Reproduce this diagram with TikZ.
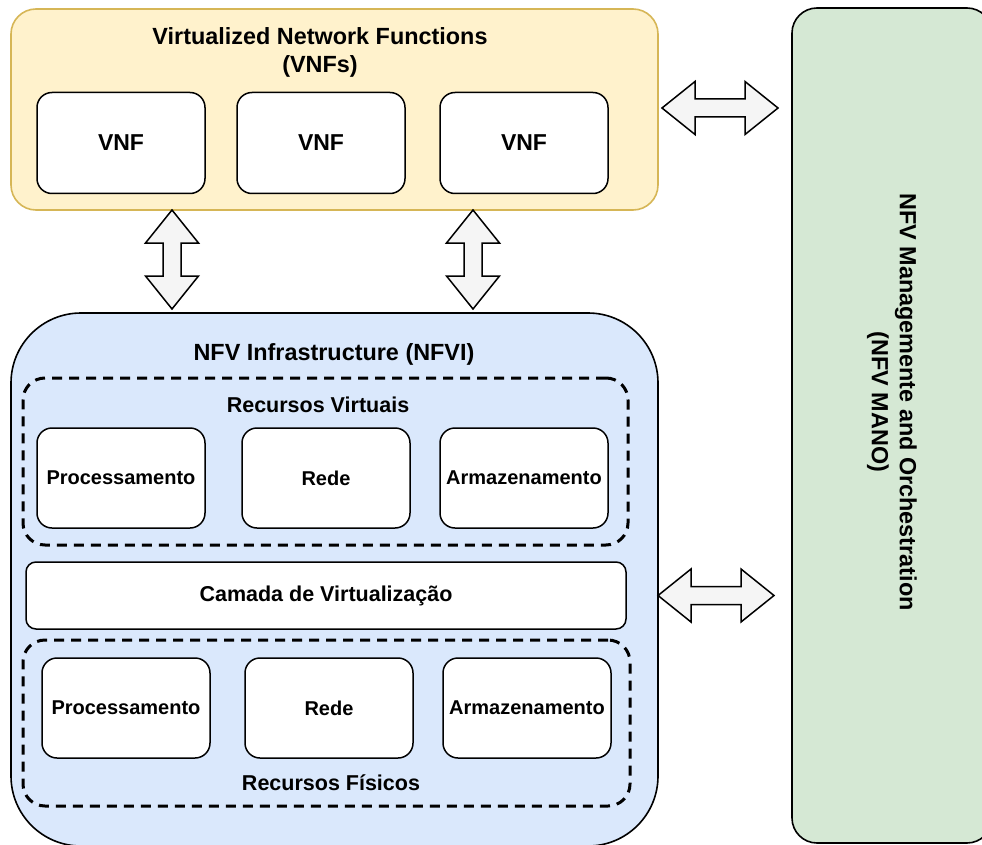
\documentclass[tikz,border=0pt]{standalone}
\usepackage{fontspec}
\setmainfont{Liberation Sans}
\usetikzlibrary{calc}

\definecolor{vnfFill}{HTML}{FFF2CC}
\definecolor{vnfLine}{HTML}{D6B656}
\definecolor{infraFill}{HTML}{DAE8FC}
\definecolor{manoFill}{HTML}{D5E8D4}
\definecolor{arrowFill}{HTML}{F5F5F5}

% double-headed block arrow between two points
\newcommand{\dblarrow}[2]{%
  \draw[blockarrow] (#1)
    -- ($(#1)!33pt!(#2)!26.5pt!90:(#2)$)
    -- ($(#1)!33pt!(#2)!9pt!90:(#2)$)
    -- ($(#2)!33pt!(#1)!9pt!-90:(#1)$)
    -- ($(#2)!33pt!(#1)!26.5pt!-90:(#1)$)
    -- (#2)
    -- ($(#2)!33pt!(#1)!26.5pt!90:(#1)$)
    -- ($(#2)!33pt!(#1)!9pt!90:(#1)$)
    -- ($(#1)!33pt!(#2)!9pt!-90:(#2)$)
    -- ($(#1)!33pt!(#2)!26.5pt!-90:(#2)$)
    -- cycle;}

\tikzset{
  plain/.style={inner sep=0pt, outer sep=0pt},
  container/.style={plain, draw=black, line width=1.6pt},
  box/.style={plain, draw=black, fill=white, rounded corners=15pt,
    line width=1.5pt, minimum width=168pt, minimum height=100pt,
    font=\fontsize{20}{24}\selectfont\bfseries},
  group/.style={plain, draw=black, line width=3pt,
    dash pattern=on 10pt off 7pt, rounded corners=22pt},
  title/.style={font=\fontsize{23.4}{28}\selectfont\bfseries, align=center},
  subtitle/.style={font=\fontsize{21.5}{25}\selectfont\bfseries},
  blockarrow/.style={draw=black, fill=arrowFill, line width=1.5pt, line join=miter},
}

\begin{document}
\begin{tikzpicture}[x=1pt, y=-1pt]
\clip (0,0) rectangle (982,845);

% VNF layer
\node[container, draw=vnfLine, fill=vnfFill, rounded corners=25pt,
      minimum width=647pt, minimum height=201pt] (vnfs) at (334.5,109.5) {};
\node[title] (vnfsTitle) at (320,52) {Virtualized Network Functions\\(VNFs)};
\node[box, font=\fontsize{23}{27}\selectfont\bfseries, minimum height=101pt] (vnf1) at (121,143) {VNF};
\node[box, font=\fontsize{23}{27}\selectfont\bfseries, minimum height=101pt] (vnf2) at (321,143) {VNF};
\node[box, font=\fontsize{23}{27}\selectfont\bfseries, minimum height=101pt] (vnf3) at (524,143) {VNF};

% infrastructure layer
\node[container, fill=infraFill, rounded corners=70pt,
      minimum width=647pt, minimum height=533pt] (nfvi) at (334.5,579.5) {};
\node[title] (nfviTitle) at (334,354) {NFV Infrastructure (NFVI)};

\node[group, minimum width=605pt, minimum height=167pt] (virt) at (325.5,461.5) {};
\node[subtitle] (virtTitle) at (318,405) {Recursos Virtuais};
\node[box] (vproc) at (121,478) {Processamento};
\node[box] (vrede) at (326,478) {Rede};
\node[box] (varm)  at (524,478) {Armazenamento};

\node[box, rounded corners=10pt, minimum width=600pt, minimum height=67pt,
      font=\fontsize{21.5}{25}\selectfont\bfseries] (camada) at (326,595.5) {Camada de Virtualização};

\node[group, minimum width=607pt, minimum height=166pt] (phys) at (326.5,723) {};
\node[box] (pproc) at (126,708) {Processamento};
\node[box] (prede) at (329,708) {Rede};
\node[box] (parm)  at (527,708) {Armazenamento};
\node[subtitle] (physTitle) at (331,783) {Recursos Físicos};

% management and orchestration
\node[container, fill=manoFill, rounded corners=25pt,
      minimum width=200pt, minimum height=835pt] (mano) at (892,425.5) {};
\node[title, rotate=-90] (manoTitle) at (892,402) {NFV Managemente and Orchestration\\(NFV MANO)};

% block arrows
\coordinate (vA1) at (vnfs.south -| 172,0);
\coordinate (vB1) at ([yshift=4pt]nfvi.north -| 172,0);
\coordinate (vA2) at (vnfs.south -| 473,0);
\coordinate (vB2) at ([yshift=4pt]nfvi.north -| 473,0);
\coordinate (hA1) at ([xshift=4pt]vnfs.east |- 0,108);
\coordinate (hB1) at ([xshift=-14pt]mano.west |- 0,108);
\coordinate (hA2) at (nfvi.east |- camada);
\coordinate (hB2) at ([xshift=-18pt]mano.west |- camada);

\dblarrow{vA1}{vB1}
\dblarrow{vA2}{vB2}
\dblarrow{hA1}{hB1}
\dblarrow{hA2}{hB2}
\end{tikzpicture}
\end{document}
